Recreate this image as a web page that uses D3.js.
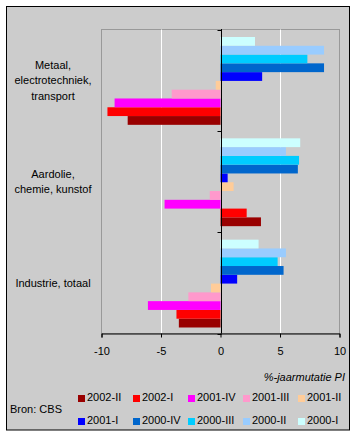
<!DOCTYPE html>
<html><head><meta charset="utf-8">
<script src="https://cdn.jsdelivr.net/npm/d3@7"></script>
<style>
body{margin:0;background:#fff;}
svg text{font-family:"Liberation Sans",Arial,sans-serif;font-size:11px;fill:#000;}
</style>
</head><body>
<svg id="chart" width="356" height="436"></svg>
<script>
const categories = ["Metaal, electrotechniek, transport", "Aardolie, chemie, kunstof", "Industrie, totaal"];
const categoryLines = [["Metaal,", "electrotechniek,", "transport"], ["Aardolie,", "chemie, kunstof"], ["Industrie, totaal"]];
const seriesNames = ["2002-II","2002-I","2001-IV","2001-III","2001-II","2001-I","2000-IV","2000-III","2000-II","2000-I"];
const seriesColors = ["#990000","#ff0000","#ff00ff","#ff99cc","#ffcc99","#0000ff","#0066cc","#00ccff","#99ccff","#ccffff"];
// values per series, in category order
const v2002II  = [-7.8, 3.4, -3.5];
const v2002I   = [-9.5, 2.2, -3.7];
const v2001IV  = [-8.9, -4.7, -6.1];
const v2001III = [-4.1, -0.9, -2.7];
const v2001II  = [-0.4, 1.1, -0.8];
const v2001I   = [3.5, 0.6, 1.4];
const v2000IV  = [8.7, 6.5, 5.3];
const v2000III = [7.3, 6.6, 4.8];
const v2000II  = [8.7, 5.5, 5.5];
const v2000I   = [2.9, 6.7, 3.2];
const seriesValues = [v2002II, v2002I, v2001IV, v2001III, v2001II, v2001I, v2000IV, v2000III, v2000II, v2000I];
const xTicks = [-10, -5, 0, 5, 10];
const xTitle = "%-jaarmutatie PI";
const source = "Bron: CBS";

const svg = d3.select("#chart");
// outer frame
svg.append("rect").attr("x",6.5).attr("y",6.5).attr("width",343).attr("height",423.5)
  .attr("fill","#cccccc").attr("stroke","#000").attr("stroke-width",1);

const L = 101.5, R = 339.5, T = 29.5, B = 333.5;
const x = d3.scaleLinear().domain([-10,10]).range([L,R]);
const y = d3.scaleBand().domain(categories).range([T,B]).padding(0);
const yInner = d3.scaleBand().domain(seriesNames.slice().reverse()).range([7.5, y.bandwidth()-6]).padding(0);

// plot area
svg.append("rect").attr("x",L).attr("y",T).attr("width",R-L).attr("height",B-T)
  .attr("fill","#cccccc").attr("stroke","#999999").attr("stroke-width",1);
// white gridlines
svg.append("g").selectAll("line").data([-5,5]).join("line")
  .attr("x1",d=>Math.round(x(d))+0.5).attr("x2",d=>Math.round(x(d))+0.5)
  .attr("y1",T).attr("y2",B).attr("stroke","#fff").attr("stroke-width",1);

// bars
const data = [];
seriesNames.forEach((s,si)=>{
  categories.forEach((c,ci)=>{
    data.push({s, c, v: seriesValues[si][ci], color: seriesColors[si]});
  });
});
svg.append("g").selectAll("rect").data(data).join("rect")
  .attr("x", d=>x(Math.min(0,d.v)))
  .attr("width", d=>Math.abs(x(d.v)-x(0)))
  .attr("y", d=>y(d.c)+yInner(d.s))
  .attr("height", yInner.bandwidth())
  .attr("fill", d=>d.color);

// zero axis line with category ticks
const x0 = Math.round(x(0))+0.5;
svg.append("line").attr("x1",x0).attr("x2",x0).attr("y1",T-0.5).attr("y2",B).attr("stroke","#000");
const bounds = categories.map(c=>y(c)).concat([B]);
svg.append("g").selectAll("line").data(bounds).join("line")
  .attr("x1",x0-4).attr("x2",x0).attr("y1",d=>Math.round(d)+0.5).attr("y2",d=>Math.round(d)+0.5)
  .attr("stroke","#000");

// x axis
const xAxis = svg.append("g").attr("transform",`translate(0,${B})`)
  .call(d3.axisBottom(x).tickValues(xTicks).tickSize(4).tickFormat(d=>String(d)));
xAxis.select(".domain").attr("stroke","#000");
xAxis.selectAll(".tick line").attr("stroke","#000");
xAxis.selectAll(".tick text").attr("y",21).attr("dy",0)
  .style("font-family","'Liberation Sans',Arial,sans-serif").style("font-size","11px").attr("fill","#000");

// category labels
categories.forEach((c,i)=>{
  const lines = categoryLines[i];
  const cy = y(c) + y.bandwidth()/2;
  const lh = 15.5;
  const t = svg.append("text").attr("text-anchor","middle");
  lines.forEach((ln,j)=>{
    t.append("tspan").attr("x",53).attr("y", cy + (j-(lines.length-1)/2)*lh + 4).text(ln);
  });
});

// axis title
svg.append("text").attr("x",345).attr("y",381).attr("text-anchor","end")
  .style("font-style","italic").text(xTitle);

// source
svg.append("text").attr("x",10).attr("y",413).text(source);

// legend
const legendOrder = seriesNames.map((s,i)=>({s, color: seriesColors[i], i}));
const lg = svg.append("g").selectAll("g").data(legendOrder).join("g")
  .attr("transform", d=>`translate(${78 + (d.i%5)*55},${d.i<5 ? 393 : 416})`);
lg.append("rect").attr("y",2).attr("width",7).attr("height",7).attr("fill",d=>d.color);
lg.append("text").attr("x",9).attr("y",8).text(d=>d.s);
</script>
</body></html>
